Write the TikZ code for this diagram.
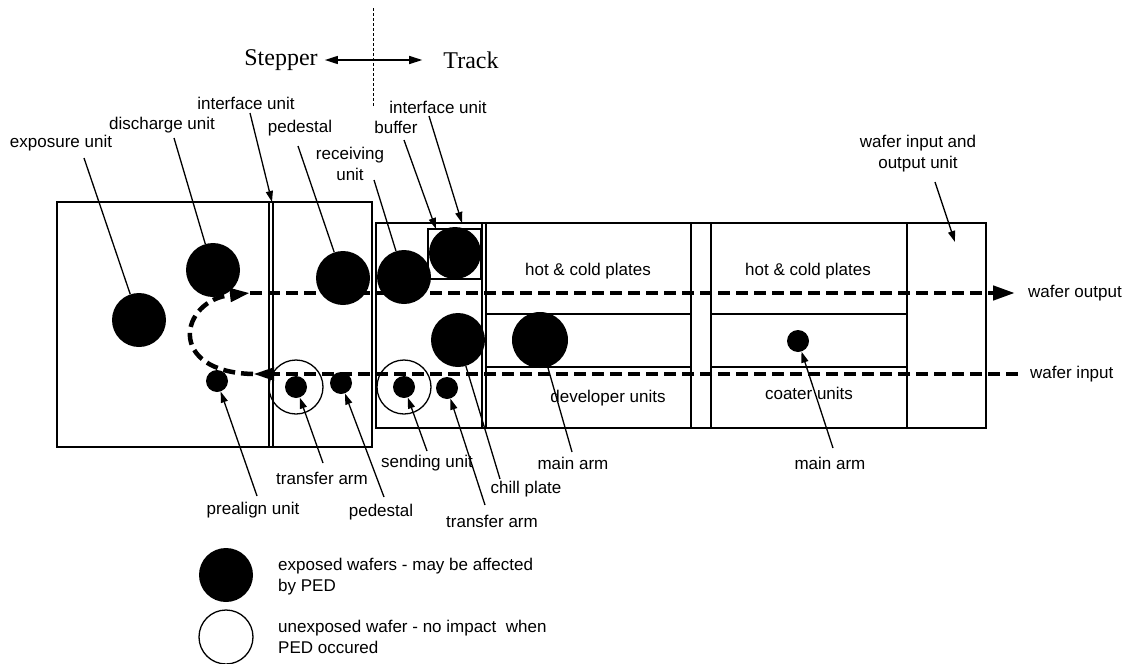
\documentclass[tikz,border=0pt]{standalone}
\usepackage{fontspec}
\setmainfont{Liberation Serif}
\newfontfamily\lblfont{Liberation Sans}
\usetikzlibrary{arrows.meta}
\usetikzlibrary{positioning}

\begin{document}
\begin{tikzpicture}[x=1pt,y=-1pt,
    wafer/.style={circle,fill=black,minimum size=54pt,inner sep=0pt},
    smallwafer/.style={circle,fill=black,minimum size=22pt,inner sep=0pt},
    openwafer/.style={circle,draw,line width=1.3pt,minimum size=54pt,inner sep=0pt},
    lbl/.style={font=\lblfont\fontsize{17}{21}\selectfont,inner sep=0pt,align=center},
    side/.style={font=\fontsize{24}{28}\selectfont,inner sep=0pt},
    ptr/.style={line width=1.3pt},
    ptrarr/.style={ptr,-{Triangle[length=11pt,width=7pt]}},
    flow/.style={line width=4.5pt,dash pattern=on 12pt off 6pt},
    box/.style={line width=1.6pt}]
  \useasboundingbox (0,0) rectangle (1128,664);

  % stepper / track split
  \draw[line width=1pt,dash pattern=on 3pt off 2pt] (373,8) -- (373,107);
  \node[side] (stp) at (281,60) {Stepper};
  \node[side] (trk) at (471,60) {Track};
  \draw[line width=1.3pt,{Triangle[length=13pt,width=8pt]}-{Triangle[length=13pt,width=8pt]},
    shorten <=7pt,shorten >=21pt] (stp.east) -- (trk.west);

  % units
  \draw[box] (57,202) rectangle (372,447);
  \draw[box] (269,202) -- (269,447) (273,202) -- (273,447);
  \draw[box] (376,223) rectangle (986,428);
  \draw[box] (482,223) -- (482,428) (486,223) -- (486,428);
  \draw[box] (691,223) -- (691,428) (711,223) -- (711,428) (907,223) -- (907,428);
  \draw[box] (486,314) -- (691,314) (486,367) -- (691,367);
  \draw[box] (711,314) -- (907,314) (711,367) -- (907,367);

  \node[lbl] (hcd) at (588,271) {hot \& cold plates};
  \node[lbl] (hcc) at (808,271) {hot \& cold plates};
  \node[lbl] (dev) at (608,398) {developer units};
  \node[lbl] (coat) at (809,393) {coater units};

  % wafer path
  \coordinate (inR) at (1018,374);
  \coordinate (inL) at (253,374);
  \coordinate (outL) at (250,293);
  \coordinate (outR) at (1015,293);
  \draw[flow,-{Triangle[length=21pt,width=12pt]}] (inR) -- (inL);
  \draw[flow,-{Triangle[length=20pt,width=13pt]}] (inL) .. controls (165,372) and (180,300) .. (outL);
  \draw[flow,-{Triangle[length=22pt,width=14pt]}] (outL) -- (outR);
  \node[lbl,anchor=west] (lout) at (1028,293) {wafer output};
  \node[lbl,anchor=west] (lin) at (1030,374) {wafer input};

  % wafers
  \node[wafer] (wexp) at (139,320) {};
  \node[wafer] (wdis) at (213,270) {};
  \node[wafer] (wped) at (343,278) {};
  \node[wafer] (wrec) at (404,277) {};
  \node[wafer,minimum size=52pt] (wbuf) at (455,253) {};
  \draw[box] (428,229) rectangle (481,279);
  \node[wafer] (wchl) at (458,340) {};
  \node[wafer,minimum size=56pt] (wdev) at (540,340) {};
  \node[smallwafer] (wcoat) at (798,341) {};
  \node[smallwafer] (wpre) at (217,381) {};
  \node[openwafer] (otra) at (296,387) {};
  \node[smallwafer] (wtra) at (296,387) {};
  \node[smallwafer] (wped2) at (341,383) {};
  \node[openwafer] (osnd) at (404,387) {};
  \node[smallwafer] (wsnd) at (404,387) {};
  \node[smallwafer] (wtrb) at (447,388) {};

  % labels above
  \node[lbl] (lexp) at (61,143) {exposure unit};
  \node[lbl] (ldis) at (162,125) {discharge unit};
  \node[lbl] (lifl) at (246,103) {interface unit};
  \node[lbl] (lpedt) at (300,128) {pedestal};
  \node[lbl] (lrec) at (350,164) {receiving\\unit};
  \node[lbl] (lbuf) at (396,127) {buffer};
  \node[lbl] (lifr) at (438,107) {interface unit};
  \node[lbl] (lio) at (918,154) {wafer input and\\output unit};

  % labels below
  \node[lbl] (lpre) at (253,510) {prealign unit};
  \node[lbl] (ltra) at (322,478) {transfer arm};
  \node[lbl] (lpedb) at (381,512) {pedestal};
  \node[lbl] (lsnd) at (427,463) {sending unit};
  \node[lbl] (ltrb) at (492,521) {transfer arm};
  \node[lbl] (lchl) at (526,489) {chill plate};
  \node[lbl] (ldarm) at (573,463) {main arm};
  \node[lbl] (lcarm) at (830,463) {main arm};

  % pointer ends
  \coordinate (pexp) at (84,158);
  \coordinate (pdis) at (174,138);
  \coordinate (pifl) at (250,113);
  \coordinate (tifl) at (272,202);
  \coordinate (ppedt) at (298,146);
  \coordinate (prec) at (374,180);
  \coordinate (pbuf) at (404,140);
  \coordinate (tbuf) at (436,229);
  \coordinate (pifr) at (429,116);
  \coordinate (tifr) at (462,223);
  \coordinate (pio) at (935,182);
  \coordinate (tio) at (955,242);
  \coordinate (ppre) at (257,496);
  \coordinate (ptra) at (323,463);
  \coordinate (ppedb) at (384,497);
  \coordinate (psnd) at (427,451);
  \coordinate (ptrb) at (485,505);
  \coordinate (pchl) at (500,479);
  \coordinate (pdarm) at (572,452);
  \coordinate (pcarm) at (833,448);

  \draw[ptr] (pexp) -- (wexp);
  \draw[ptr] (pdis) -- (wdis);
  \draw[ptrarr] (pifl) -- (tifl);
  \draw[ptr] (ppedt) -- (wped);
  \draw[ptr] (prec) -- (wrec);
  \draw[ptrarr] (pbuf) -- (tbuf);
  \draw[ptrarr] (pifr) -- (tifr);
  \draw[ptrarr] (pio) -- (tio);
  \draw[ptrarr] (ppre) -- (wpre);
  \draw[ptrarr] (ptra) -- (wtra);
  \draw[ptrarr] (ppedb) -- (wped2);
  \draw[ptrarr] (psnd) -- (wsnd);
  \draw[ptrarr] (ptrb) -- (wtrb);
  \draw[ptr] (pchl) -- (wchl);
  \draw[ptr] (pdarm) -- (wdev);
  \draw[ptrarr] (pcarm) -- (wcoat);

  % legend
  \node[wafer] (kexp) at (226,575) {};
  \node[openwafer] (kun) at (226,637) {};
  \node[lbl,anchor=west,align=left] (kexpt) at (278,577) {exposed wafers - may be affected\\by PED};
  \node[lbl,anchor=west,align=left] (kunt) at (278,637) {unexposed wafer - no impact~ when\\PED occured};
\end{tikzpicture}
\end{document}
